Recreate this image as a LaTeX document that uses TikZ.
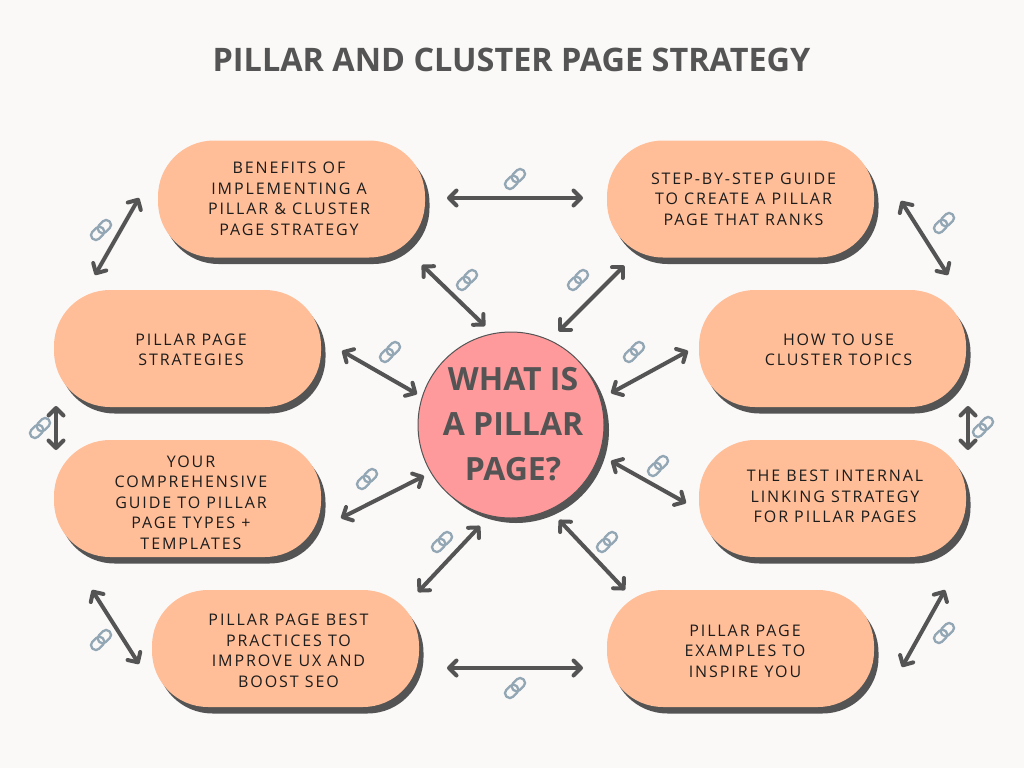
\documentclass[tikz,border=0pt]{standalone}
\usepackage{fontspec}
\usetikzlibrary{arrows.meta,shadows,calc}
\setmainfont{Open Sans}
\newfontfamily\pilltextfont[LetterSpace=12]{Open Sans}
\newfontfamily\headfont{Open Sans}
\definecolor{bgc}{HTML}{FBF9F8}
\definecolor{peach}{HTML}{FFBE98}
\definecolor{rosy}{HTML}{FF9A9C}
\definecolor{darkc}{HTML}{545454}
\definecolor{linkc}{HTML}{92A6B4}
\definecolor{inkc}{HTML}{1C1C1C}
\tikzset{
  pill/.style={rectangle,rounded corners=56pt,minimum width=267pt,minimum height=117pt,inner sep=0pt,fill=peach,
    drop shadow={shadow xshift=4.5pt,shadow yshift=-6.5pt,opacity=1,fill=darkc}},
  hubnode/.style={circle,minimum size=186pt,inner sep=0pt,fill=rosy,draw=darkc,line width=1pt,
    drop shadow={shadow xshift=5pt,shadow yshift=-5pt,opacity=1,fill=darkc}},
  pilllabel/.style={align=center,text=inkc,font=\pilltextfont\fontsize{16}{20.5}\selectfont,inner sep=0pt},
  biarrow/.style={draw=darkc,line width=4pt,{Straight Barb[round,length=7.5pt,width=15pt]}-{Straight Barb[round,length=7.5pt,width=15pt]}},
  linkicon/.pic={
    \begin{scope}[rotate=45,x=1pt,y=1pt,line width=2.3pt,draw=linkc]
      \draw[rounded corners=4.4pt] (-12,-4.8) rectangle (2.5,4.8);
      \draw[rounded corners=4.4pt] (-2.5,-4.8) rectangle (12,4.8);
    \end{scope}
  }
}
\begin{document}
\begin{tikzpicture}[x=1pt,y=-1pt]
\useasboundingbox (0,0) rectangle (1024,768);
\fill[bgc] (0,0) rectangle (1024,768);
\node[text=darkc,font=\headfont\bfseries\fontsize{32.4}{38}\selectfont,inner sep=0pt] (title) at (511.5,59.5) {PILLAR AND CLUSTER PAGE STRATEGY};

\node[pill] (pA) at (291.5,199) {};
\node[pill] (pB) at (740.5,199) {};
\node[pill] (pC) at (832.5,348.5) {};
\node[pill] (pD) at (832.5,498.5) {};
\node[pill] (pE) at (740.5,648.5) {};
\node[pill] (pF) at (285.5,648.5) {};
\node[pill] (pG) at (187.5,498.5) {};
\node[pill] (pH) at (187.5,348.5) {};
\node[hubnode] (hub) at (511,425) {};
\node[text=darkc,align=center,font=\headfont\bfseries\fontsize{32}{45}\selectfont,inner sep=0pt] (hubtext) at (513,424) {WHAT IS\\A PILLAR\\PAGE?};

\node[pilllabel] (tA) at (289,199) {BENEFITS OF\\IMPLEMENTING A\\PILLAR \& CLUSTER\\PAGE STRATEGY};
\node[pilllabel] (tB) at (743.5,199) {STEP-BY-STEP GUIDE\\TO CREATE A PILLAR\\PAGE THAT RANKS};
\node[pilllabel] (tC) at (838.5,350) {HOW TO USE\\CLUSTER TOPICS};
\node[pilllabel] (tD) at (835,496.5) {THE BEST INTERNAL\\LINKING STRATEGY\\FOR PILLAR PAGES};
\node[pilllabel] (tE) at (745,651) {PILLAR PAGE\\EXAMPLES TO\\INSPIRE YOU};
\node[pilllabel] (tF) at (288.5,651) {PILLAR PAGE BEST\\PRACTICES TO\\IMPROVE UX AND\\BOOST SEO};
\node[pilllabel] (tG) at (191,502.5) {YOUR\\COMPREHENSIVE\\GUIDE TO PILLAR\\PAGE TYPES +\\TEMPLATES};
\node[pilllabel] (tH) at (191,350) {PILLAR PAGE\\STRATEGIES};

% outer ring
\draw[biarrow] ($(pA)+(155.5,-1)$) -- ($(pB)+(-157.5,-1)$);
\draw[biarrow] ($(pB)+(160.5,2)$) -- ($(pC)+(115.5,-73.5)$);
\draw[biarrow] ($(pC)+(135.5,57.5)$) -- ($(pD)+(135.5,-48.5)$);
\draw[biarrow] ($(pD)+(112.5,91.5)$) -- ($(pE)+(161.5,18.5)$);
\draw[biarrow] ($(pE)+(-157.5,19.5)$) -- ($(pF)+(161.5,19.5)$);
\draw[biarrow] ($(pF)+(-146.5,15.5)$) -- ($(pG)+(-95.5,91.5)$);
\draw[biarrow] ($(pG)+(-131.5,-48.5)$) -- ($(pH)+(-131.5,57.5)$);
\draw[biarrow] ($(pH)+(-92.5,-73.5)$) -- ($(pA)+(-152.5,-1)$);
% spokes
\draw[biarrow] ($(pA)+(130.5,66)$) -- ($(hub)+(-26,-99)$);
\draw[biarrow] ($(pB)+(-116.5,67)$) -- ($(hub)+(48,-94)$);
\draw[biarrow] ($(pC)+(-144.5,2.5)$) -- ($(hub)+(100,-32)$);
\draw[biarrow] ($(pD)+(-146.5,4.5)$) -- ($(hub)+(100,36)$);
\draw[biarrow] ($(pE)+(-115.5,-58.5)$) -- ($(hub)+(48,95)$);
\draw[biarrow] ($(pF)+(132.5,-56.5)$) -- ($(hub)+(-31,101)$);
\draw[biarrow] ($(pG)+(153.5,19.5)$) -- ($(hub)+(-87,51)$);
\draw[biarrow] ($(pH)+(154.5,2.5)$) -- ($(hub)+(-94,-31)$);

% link icons
\path (515,179) pic (l1) {linkicon};
\path (944,223) pic (l2) {linkicon};
\path (983,427) pic (l3) {linkicon};
\path (944,633) pic (l4) {linkicon};
\path (515,688) pic (l5) {linkicon};
\path (101,640) pic (l6) {linkicon};
\path (40,428) pic (l7) {linkicon};
\path (101,230) pic (l8) {linkicon};
\path (467,280) pic (l9) {linkicon};
\path (578,280) pic (l10) {linkicon};
\path (634,352) pic (l11) {linkicon};
\path (658,466) pic (l12) {linkicon};
\path (607,542) pic (l13) {linkicon};
\path (442,542) pic (l14) {linkicon};
\path (367,479) pic (l15) {linkicon};
\path (390,352) pic (l16) {linkicon};
\end{tikzpicture}
\end{document}
